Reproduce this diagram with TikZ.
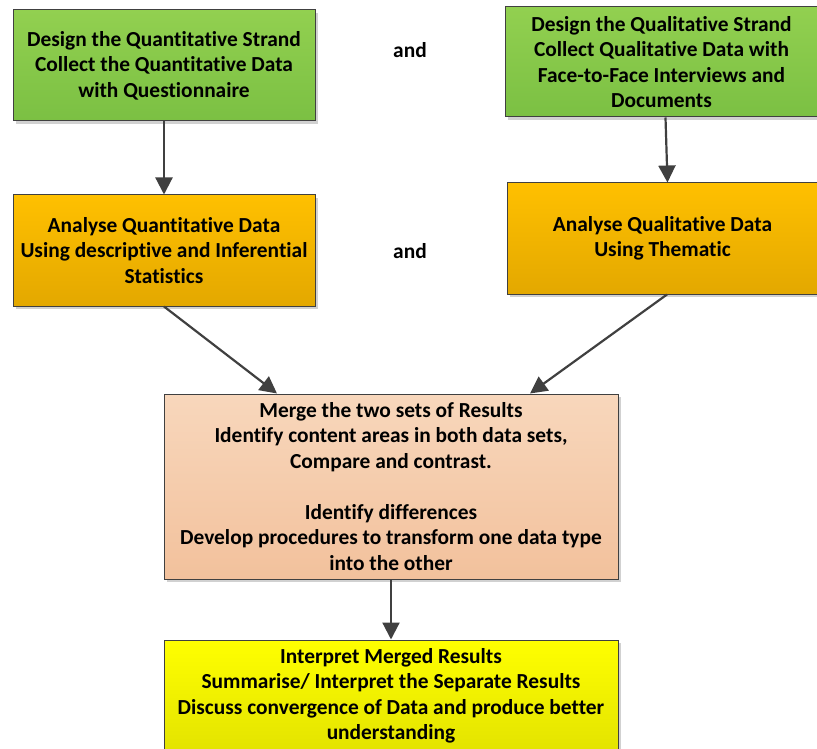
\documentclass[tikz,border=0pt]{standalone}
\usepackage{fontspec}
\setmainfont{Carlito}[Ligatures=NoCommon]
\usetikzlibrary{arrows.meta,shadows}

\definecolor{edgegray}{HTML}{404040}
\definecolor{greentop}{HTML}{92D050}
\definecolor{greenbot}{HTML}{7BC043}
\definecolor{orangetop}{HTML}{FFC000}
\definecolor{orangebot}{HTML}{E3A800}
\definecolor{peachtop}{HTML}{F8D7BC}
\definecolor{peachbot}{HTML}{F2C19C}
\definecolor{yellowtop}{HTML}{FFFF00}
\definecolor{yellowbot}{HTML}{E3E300}

\tikzset{
  stagebox/.style={draw=edgegray, line width=1pt, rectangle, align=center,
    font=\bfseries\fontsize{21.4}{25.5}\selectfont, inner sep=0pt,
    drop shadow={shadow xshift=3pt, shadow yshift=-3pt, fill=black!18, opacity=1}},
  greenbox/.style={stagebox, top color=greentop, bottom color=greenbot},
  orangebox/.style={stagebox, top color=orangetop, bottom color=orangebot},
  peachbox/.style={stagebox, top color=peachtop, bottom color=peachbot},
  yellowbox/.style={stagebox, top color=yellowtop, bottom color=yellowbot},
  joiner/.style={font=\bfseries\fontsize{21.4}{25.5}\selectfont},
  flow/.style={draw=edgegray, line width=2.2pt,
    -{Triangle[length=17pt,width=17pt]}, fill=edgegray}
}

\begin{document}
\begin{tikzpicture}[x=1pt, y=-1pt]
  \useasboundingbox (0,0) rectangle (817,749);

  % data collection strands
  \node[greenbox, minimum width=302pt, minimum height=111pt] (q1) at (164,65.5)
    {Design the Quantitative Strand\\Collect the Quantitative Data\\with Questionnaire};
  \node[greenbox, minimum width=313pt, minimum height=110pt] (q2) at (661.5,62)
    {Design the Qualitative Strand\\Collect Qualitative Data with\\Face-to-Face Interviews and\\Documents};
  \node[joiner] (and1) at (410,50) {and};

  % analysis strands
  \node[orangebox, minimum width=302pt, minimum height=111pt] (a1) at (164,250.5)
    {Analyse Quantitative Data\\Using descriptive and Inferential\\Statistics};
  \node[orangebox, minimum width=311pt, minimum height=111pt] (a2) at (662.5,238.5)
    {Analyse Qualitative Data\\Using Thematic};
  \node[joiner] (and2) at (410,251) {and};

  % merging step
  \node[peachbox, minimum width=454pt, minimum height=185pt] (m) at (391,486.5)
    {Merge the two sets of Results\\Identify content areas in both data sets,\\Compare and contrast.\\[25.5pt]Identify differences\\Develop procedures to transform one data type\\into the other};

  % interpretation step
  \node[yellowbox, minimum width=454pt, minimum height=112pt] (r) at (391,696)
    {Interpret Merged Results\\Summarise/ Interpret the Separate Results\\Discuss convergence of Data and produce better\\understanding};

  % connectors
  \draw[flow] (q1.south) -- (a1.north);
  \draw[flow] ([xshift=4pt]q2.south) -- ([xshift=5pt]a2.north);
  \draw[flow] (a1.south) -- ([xshift=-114pt]m.north);
  \draw[flow] ([xshift=4.5pt]a2.south) -- ([xshift=139pt]m.north);
  \draw[flow] (m.south) -- (r.north);
\end{tikzpicture}
\end{document}
